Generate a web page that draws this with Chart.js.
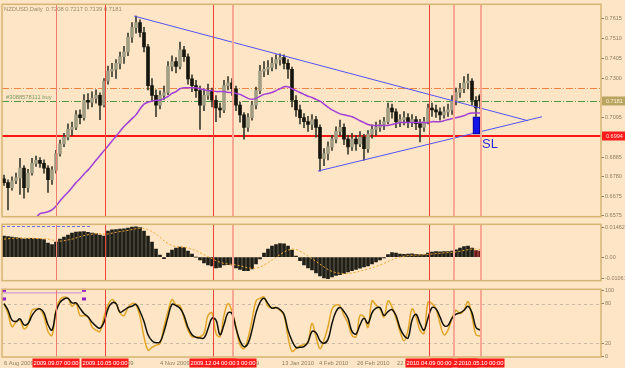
<!DOCTYPE html>
<html>
<head>
<meta charset="utf-8">
<title>NZDUSD Daily</title>
<script src="https://cdn.jsdelivr.net/npm/chart.js@4.4.1/dist/chart.umd.min.js"></script>
<style>
  html, body { margin: 0; padding: 0; background: #fde5c6; }
  #wrap { position: relative; width: 625px; height: 368px; overflow: hidden; background: #fde5c6; }
  #wrap canvas { position: absolute; left: 0; }
</style>
</head>
<body>
<div id="wrap">
  <canvas id="priceChart" width="625" height="221" style="top:0"></canvas>
  <canvas id="macdChart" width="625" height="65" style="top:220px"></canvas>
  <canvas id="stochChart" width="625" height="83" style="top:285px"></canvas>
</div>
<script>
// daily bars, 6 Aug 2009 .. 10 May 2010
const opens = [
  .6770, .6750, .6724, .6760, .6775, .6827, .6724, .6801, .6852, .6868,
  .6852, .6827, .6765, .6816, .6903, .6955, .6990, .7031, .7042, .7108,
  .7093, .7185, .7175, .7195, .7211, .7159, .7287, .7339, .7349, .7380,
  .7415, .7441, .7518, .7569, .7595, .7543, .7467, .7262, .7211, .7159,
  .7211, .7226, .7364, .7390, .7364, .7451, .7415, .7298, .7262, .7236,
  .7159, .7211, .7236, .7185, .7144, .7134, .7262, .7277, .7246, .7159,
  .7108, .7042, .7093, .7159, .7236, .7339, .7349, .7359, .7380, .7400,
  .7410, .7380, .7349, .7185, .7134, .7093, .7072, .7057, .7083, .7042,
  .6878, .6903, .6939, .6980, .7021, .7042, .6980, .6939, .6980, .6955,
  .6990, .6929, .7006, .7031, .7042, .7057, .7072, .7144, .7124, .7072,
  .7083, .7093, .7072, .7083, .7062, .7042, .7072, .7144, .7134, .7124,
  .7108, .7124, .7134, .7185, .7226, .7246, .7277, .7287, .7185, .7208
];
const highs = [
  .6790, .6765, .6780, .6800, .6878, .6840, .6820, .6878, .6890, .6882,
  .6870, .6840, .6835, .6920, .6975, .7010, .7060, .7070, .7130, .7135,
  .7215, .7220, .7230, .7240, .7225, .7300, .7365, .7380, .7400, .7440,
  .7470, .7540, .7595, .7630, .7610, .7570, .7480, .7300, .7240, .7235,
  .7260, .7390, .7420, .7410, .7492, .7470, .7430, .7320, .7290, .7260,
  .7245, .7270, .7250, .7210, .7170, .7290, .7310, .7300, .7260, .7175,
  .7120, .7115, .7180, .7255, .7370, .7390, .7395, .7410, .7425, .7431,
  .7425, .7400, .7360, .7210, .7160, .7115, .7100, .7110, .7100, .7055,
  .6930, .6965, .7000, .7045, .7080, .7060, .7000, .7010, .7000, .7020,
  .7005, .7025, .7055, .7070, .7080, .7095, .7170, .7165, .7140, .7110,
  .7125, .7115, .7110, .7100, .7085, .7095, .7165, .7170, .7160, .7145,
  .7150, .7165, .7210, .7250, .7275, .7310, .7323, .7300, .7205, .7217
];
const lows = [
  .6735, .6606, .6710, .6745, .6688, .6668, .6700, .6790, .6835, .6830,
  .6800, .6698, .6740, .6800, .6890, .6940, .6975, .7000, .7030, .7060,
  .7080, .7140, .7150, .7170, .7083, .7150, .7270, .7310, .7300, .7350,
  .7380, .7420, .7490, .7540, .7520, .7440, .7240, .7180, .7098, .7140,
  .7190, .7215, .7340, .7330, .7350, .7390, .7270, .7230, .7200, .7031,
  .7130, .7190, .7150, .7072, .7095, .7120, .7240, .7210, .7130, .7070,
  .6980, .7020, .7080, .7140, .7220, .7310, .7320, .7340, .7350, .7370,
  .7350, .7300, .7150, .7100, .7060, .7040, .7020, .7030, .6990, .6811,
  .6840, .6870, .6920, .6960, .7000, .6950, .6900, .6920, .6920, .6940,
  .6868, .6910, .6985, .7000, .7020, .7030, .7060, .7090, .7040, .7045,
  .7055, .7040, .7045, .7030, .6965, .7020, .7060, .7100, .7095, .7080,
  .7090, .7100, .7110, .7160, .7200, .7225, .7245, .7160, .7100, .7139
];
const closes = [
  .6750, .6724, .6760, .6775, .6827, .6724, .6801, .6852, .6868, .6852,
  .6827, .6765, .6816, .6903, .6955, .6990, .7031, .7042, .7108, .7093,
  .7185, .7175, .7195, .7211, .7159, .7287, .7339, .7349, .7380, .7415,
  .7441, .7518, .7569, .7595, .7543, .7467, .7262, .7211, .7159, .7211,
  .7226, .7364, .7390, .7364, .7451, .7415, .7298, .7262, .7236, .7159,
  .7211, .7236, .7185, .7144, .7134, .7262, .7277, .7246, .7159, .7108,
  .7042, .7093, .7159, .7236, .7339, .7349, .7359, .7380, .7400, .7410,
  .7380, .7349, .7185, .7134, .7093, .7072, .7057, .7083, .7042, .6878,
  .6903, .6939, .6980, .7021, .7042, .6980, .6939, .6980, .6955, .6990,
  .6929, .7006, .7031, .7042, .7057, .7072, .7144, .7124, .7072, .7083,
  .7093, .7072, .7083, .7062, .7042, .7072, .7144, .7134, .7124, .7108,
  .7124, .7134, .7185, .7226, .7246, .7277, .7287, .7185, .7144, .7181
];
// purple moving average
const maLine = [
  null, null, null, null, null, null, null, null,
  .6565, .6586, .6591, .6596, .6606, .6627, .6653, .6678, .6699, .6724,
  .6750, .6770, .6796, .6816, .6842, .6868, .6893, .6919, .6944, .6970,
  .6995, .7021, .7047, .7067, .7088, .7108, .7139, .7165, .7175, .7180,
  .7185, .7185, .7195, .7205, .7221, .7231, .7246, .7251, .7251, .7251,
  .7251, .7246, .7241, .7236, .7236, .7231, .7231, .7231, .7226, .7226,
  .7221, .7216, .7206, .7195, .7190, .7195, .7206, .7216, .7221, .7226,
  .7236, .7246, .7256, .7256, .7246, .7236, .7226, .7216, .7206, .7200,
  .7190, .7180, .7165, .7149, .7134, .7124, .7113, .7108, .7103, .7098,
  .7088, .7077, .7067, .7057, .7052, .7052, .7052, .7052, .7052, .7057,
  .7062, .7067, .7067, .7067, .7067, .7067, .7067, .7067, .7067, .7072,
  .7072, .7072, .7077, .7083, .7088, .7093, .7098, .7103, .7113, .7118,
  .7118, .7118
];
const macdHist = [
  .0105, .0103, .0100, .0098, .0095, .0092, .0093, .0094, .0093, .0092,
  .0088, .0070, .0063, .0075, .0090, .0100, .0110, .0120, .0125, .0127,
  .0128, .0124, .0120, .0118, .0110, .0105, .0130, .0137, .0138, .0140,
  .0142, .0145, .0150, .0152, .0148, .0130, .0105, .0075, .0040, .0010,
  -.0008, .0020, .0035, .0045, .0050, .0048, .0030, .0015, .0000, -.0015,
  -.0030, -.0040, -.0045, -.0055, -.0052, -.0040, -.0038, -.0040, -.0055, -.0062,
  -.0068, -.0068, -.0060, -.0035, -.0010, .0020, .0040, .0055, .0063, .0068,
  .0067, .0055, .0035, .0005, -.0018, -.0040, -.0055, -.0065, -.0080, -.0095,
  -.0105, -.0108, -.0100, -.0092, -.0088, -.0082, -.0075, -.0068, -.0062, -.0056,
  -.0050, -.0045, -.0035, -.0025, -.0015, -.0005, .0012, .0022, .0020, .0015,
  .0014, .0015, .0016, .0014, .0012, .0013, .0020, .0025, .0027, .0026,
  .0027, .0028, .0030, .0036, .0045, .0052, .0055, .0045, .0033, .0030
];
const macdSignal = [
  .0090, .0092, .0094, .0095, .0095, .0095, .0094, .0094, .0093, .0093,
  .0092, .0090, .0086, .0082, .0080, .0082, .0086, .0090, .0096, .0102,
  .0108, .0112, .0115, .0117, .0117, .0115, .0116, .0120, .0124, .0128,
  .0131, .0134, .0138, .0142, .0145, .0144, .0138, .0128, .0115, .0100,
  .0082, .0068, .0058, .0052, .0050, .0049, .0046, .0040, .0032, .0022,
  .0012, .0002, -.0008, -.0018, -.0026, -.0032, -.0035, -.0037, -.0040, -.0044,
  -.0049, -.0054, -.0057, -.0056, -.0050, -.0040, -.0028, -.0015, -.0002, .0012,
  .0025, .0035, .0040, .0038, .0030, .0018, .0005, -.0008, -.0022, -.0036,
  -.0050, -.0062, -.0072, -.0078, -.0082, -.0084, -.0083, -.0080, -.0076, -.0071,
  -.0066, -.0060, -.0054, -.0047, -.0040, -.0032, -.0023, -.0014, -.0006, .0000,
  .0004, .0007, .0009, .0010, .0011, .0012, .0013, .0015, .0017, .0019,
  .0021, .0022, .0024, .0026, .0029, .0033, .0037, .0040, .0040, .0038
];
const stochK = [
  80, 65, 45, 52, 55, 42, 48, 70, 72, 72,
  60, 38, 32, 70, 86, 90, 88, 76, 81, 62,
  62, 60, 45, 40, 38, 60, 78, 86, 80, 66,
  62, 74, 80, 78, 60, 30, 10, 14, 17, 20,
  45, 68, 86, 78, 77, 58, 40, 30, 30, 30,
  35, 62, 66, 35, 30, 62, 80, 68, 45, 18,
  12, 28, 55, 84, 88, 90, 76, 74, 74, 70,
  62, 30, 8, 12, 16, 18, 22, 50, 30, 12,
  25, 45, 72, 78, 76, 62, 50, 32, 30, 62,
  60, 44, 84, 78, 72, 60, 84, 75, 58, 38,
  24, 40, 72, 60, 40, 35, 82, 80, 72, 50,
  33, 40, 58, 70, 65, 70, 83, 60, 33, 31
];
const stochD = [
  80, 70, 55, 53, 57, 48, 50, 62, 70, 72,
  66, 48, 40, 68, 82, 87, 88, 81, 81, 73,
  65, 60, 52, 46, 43, 52, 72, 81, 80, 67,
  70, 74, 76, 79, 68, 53, 33, 24, 21, 22,
  38, 60, 79, 77, 73, 62, 44, 33, 29, 28,
  28, 42, 58, 55, 33, 48, 66, 65, 43, 24,
  15, 20, 40, 66, 82, 88, 80, 73, 74, 71,
  64, 40, 24, 14, 14, 15, 22, 38, 36, 24,
  20, 26, 50, 68, 74, 68, 58, 38, 34, 48,
  58, 50, 66, 73, 74, 62, 68, 71, 62, 43,
  32, 28, 55, 64, 50, 40, 58, 74, 72, 60,
  47, 47, 58, 64, 66, 70, 76, 66, 44, 40
];

const priceTicks = [0.7615, 0.7510, 0.7405, 0.7300, 0.7095, 0.6885, 0.6780, 0.6675, 0.6575];
const macdTicks = [0.01462, 0, -0.01061];
const macdTickLabels = ['0.01462', '0.00', '-0.01061'];
const stochTicks = [100, 80, 20, 0];

// bar positions of the date labels and of the vertical event lines
const dateLabels = ['6 Aug 2009', '12 Oct 2009', '4 Nov 2009', '24 Dec 2009', '13 Jan 2010', '4 Feb 2010', '26 Feb 2010', '22 Mar 2010'];
const dateIdx = [-0.5, 24, 38.5, 55, 69, 78.25, 87.75, 97.75];
const eventIdx = [13, 25.25, 57.25, 52.25, 112.5, 106.25, 119.25];
const eventLabels = ['2009.09.07 00:00', '2009.10.05 00:00', '2009.12.23 00:00', '2009.12.04 00:00', '2010.04.26 00:00', '2010.04.09 00:00', '2010.05.10 00:00'];

// horizontal levels: take profit, bid, order, stop loss
const levelPrices = [0.7250, 0.7183, 0.7180, 0.6994];
const lastPrice = 0.7181;
const stopPrice = 0.6994;
const headerText = 'NZDUSD,Daily  0.7208 0.7217 0.7139 0.7181';
const orderText = '#3088578111 buy';

// triangle lines [barIndex, price]
const upperTrend = [[32.5, 0.7630], [131, 0.7077]];
const lowerTrend = [[78.5, 0.6811], [134.5, 0.7098]];
const slBox = [118.1, 0.7006, 0.7098];

const X_MIN = -0.5;
const X_MAX = 149.25;
const FONT = "'Liberation Sans', Arial, sans-serif";
const AXIS_TEXT = '#8d7e60';
const PANEL_BORDER = '#d6b472';
const BULL = '#a19e84';
const BEAR = '#16160f';

const levelStyles = [
  { color: '#ef8440', width: 1, dash: [7, 2, 1, 2] },
  { color: '#c9c0b2', width: 1, dash: [1, 2] },
  { color: '#4f9440', width: 1, dash: [7, 2, 1, 2] },
  { color: '#ff1414', width: 2, dash: [] }
];
const eventStyles = [
  { color: '#f07a70', width: 1 },
  { color: '#ec4438', width: 1 },
  { color: '#f7a793', width: 2 },
  { color: '#ec4438', width: 1 },
  { color: '#f7a793', width: 2 },
  { color: '#ec4438', width: 1 },
  { color: '#f7a793', width: 2 }
];

const barIdx = closes.map((_, i) => i);

function rightAxis(min, max, ticks, format) {
  return {
    position: 'right',
    min,
    max,
    afterFit: (s) => { s.width = 24; },
    afterBuildTicks: (s) => { s.ticks = ticks.map((v) => ({ value: v })); },
    grid: { display: true, drawOnChartArea: false, drawTicks: true, tickLength: 3, color: AXIS_TEXT },
    border: { display: false },
    ticks: { autoSkip: false, padding: 1, color: AXIS_TEXT, font: { family: FONT, size: 5.5 }, callback: format }
  };
}

function baseOptions(yAxis, padding) {
  return {
    responsive: false,
    animation: false,
    events: [],
    layout: { padding },
    plugins: { legend: { display: false }, tooltip: { enabled: false } },
    scales: {
      x: { type: 'linear', min: X_MIN, max: X_MAX, offset: false, display: false },
      y: yAxis
    }
  };
}

const panelFrame = {
  id: 'panelFrame',
  afterDatasetsDraw(chart) {
    const { ctx, chartArea: a, scales: { x } } = chart;
    ctx.save();
    eventIdx.forEach((v, k) => {
      const st = eventStyles[k];
      const px = Math.round(x.getPixelForValue(v)) + (st.width === 1 ? 0.5 : 0);
      ctx.strokeStyle = st.color;
      ctx.lineWidth = st.width;
      ctx.beginPath();
      ctx.moveTo(px, a.top);
      ctx.lineTo(px, a.bottom);
      ctx.stroke();
    });
    ctx.restore();
  },
  afterDraw(chart) {
    const { ctx, chartArea: a } = chart;
    ctx.save();
    ctx.strokeStyle = PANEL_BORDER;
    ctx.lineWidth = 1.5;
    ctx.strokeRect(a.left, a.top, a.right - a.left, a.bottom - a.top);
    ctx.restore();
  }
};

function axisBox(chart, value, bg, fg) {
  const { ctx, chartArea: a, scales: { y } } = chart;
  const py = Math.round(y.getPixelForValue(value));
  ctx.fillStyle = bg;
  ctx.fillRect(a.right + 1, py - 4.5, 24, 9);
  ctx.fillStyle = fg;
  ctx.font = `5.5px ${FONT}`;
  ctx.textBaseline = 'middle';
  ctx.textAlign = 'left';
  ctx.fillText(value.toFixed(4), a.right + 5, py + 0.5);
}

const priceDecor = {
  id: 'priceDecor',
  beforeDatasetsDraw(chart) {
    const { ctx, chartArea: a, scales: { y } } = chart;
    ctx.save();
    levelPrices.forEach((p, k) => {
      const st = levelStyles[k];
      const py = Math.round(y.getPixelForValue(p)) + (st.width === 1 ? 0.5 : 0);
      ctx.strokeStyle = st.color;
      ctx.lineWidth = st.width;
      ctx.setLineDash(st.dash);
      ctx.beginPath();
      ctx.moveTo(a.left, py);
      ctx.lineTo(a.right, py);
      ctx.stroke();
    });
    ctx.setLineDash([]);
    ctx.font = `5.8px ${FONT}`;
    ctx.textBaseline = 'alphabetic';
    ctx.fillStyle = '#7f9a60';
    ctx.fillText(orderText, a.left + 4, y.getPixelForValue(levelPrices[2]) - 2);
    ctx.fillStyle = '#9a8a68';
    ctx.fillText(headerText, a.left + 2, a.top + 7);
    ctx.restore();
  },
  afterDatasetsDraw(chart) {
    const { ctx, scales: { x, y } } = chart;
    ctx.save();
    ctx.fillStyle = '#2b2bd8';
    ctx.font = `13px ${FONT}`;
    ctx.textBaseline = 'top';
    ctx.fillText('SL', x.getPixelForValue(slBox[0] + 1.4), y.getPixelForValue(slBox[1]) + 4);
    ctx.restore();
  },
  afterDraw(chart) {
    chart.ctx.save();
    axisBox(chart, lastPrice, '#b9a560', '#fff3da');
    axisBox(chart, stopPrice, '#ff1c1c', '#ffe2da');
    chart.ctx.restore();
  }
};

new Chart(document.getElementById('priceChart'), {
  type: 'bar',
  data: {
    datasets: [
      {
        type: 'bar',
        order: 1,
        grouped: false,
        barThickness: 7,
        backgroundColor: '#1414e6',
        borderColor: '#00008a',
        borderWidth: 1,
        borderSkipped: false,
        data: [{ x: slBox[0], y: [slBox[1], slBox[2]] }]
      },
      {
        type: 'line',
        order: 2,
        borderColor: '#5252f2',
        borderWidth: 1,
        pointRadius: 0,
        data: upperTrend.map(([x, y]) => ({ x, y }))
      },
      {
        type: 'line',
        order: 2,
        borderColor: '#5252f2',
        borderWidth: 1,
        pointRadius: 0,
        data: lowerTrend.map(([x, y]) => ({ x, y }))
      },
      {
        type: 'line',
        order: 3,
        borderColor: '#a23fd6',
        borderWidth: 1.5,
        pointRadius: 0,
        tension: 0.3,
        data: barIdx.map((i) => ({ x: i, y: maLine[i] }))
      },
      {
        type: 'bar',
        order: 4,
        grouped: false,
        barThickness: 3,
        minBarLength: 1,
        borderWidth: 0,
        backgroundColor: (c) => (closes[c.dataIndex] >= opens[c.dataIndex] ? BULL : BEAR),
        data: barIdx.map((i) => ({ x: i, y: [opens[i], closes[i]] }))
      },
      {
        type: 'bar',
        order: 5,
        grouped: false,
        barThickness: 1,
        borderWidth: 0,
        backgroundColor: '#3c3c2e',
        data: barIdx.map((i) => ({ x: i, y: [lows[i], highs[i]] }))
      }
    ]
  },
  options: baseOptions(rightAxis(0.6570, 0.7692, priceTicks, (v) => v.toFixed(4)), { left: 2, right: 0, top: 1, bottom: 1 }),
  plugins: [priceDecor, panelFrame]
});

const macdDecor = {
  id: 'macdDecor',
  beforeDatasetsDraw(chart) {
    const { ctx, scales: { x, y } } = chart;
    ctx.save();
    ctx.strokeStyle = '#6b6bf0';
    ctx.lineWidth = 1;
    ctx.setLineDash([3, 2]);
    const py = Math.round(y.getPixelForValue(0.0155)) + 0.5;
    ctx.beginPath();
    ctx.moveTo(x.getPixelForValue(-0.5), py);
    ctx.lineTo(x.getPixelForValue(21.5), py);
    ctx.stroke();
    ctx.restore();
  }
};

new Chart(document.getElementById('macdChart'), {
  type: 'bar',
  data: {
    datasets: [
      {
        type: 'line',
        order: 1,
        borderColor: '#f2a82e',
        borderWidth: 1,
        borderDash: [2, 2],
        pointRadius: 0,
        tension: 0.3,
        data: barIdx.map((i) => ({ x: i, y: macdSignal[i] }))
      },
      {
        type: 'bar',
        order: 2,
        grouped: false,
        barThickness: 3,
        borderWidth: 0,
        backgroundColor: (c) => (c.dataIndex >= closes.length - 2 ? '#6e1616' : '#1f1e16'),
        data: barIdx.map((i) => ({ x: i, y: macdHist[i] }))
      }
    ]
  },
  options: baseOptions(rightAxis(-0.01188, 0.01645, macdTicks, (v, i) => macdTickLabels[i]), { left: 2, right: 0, top: 2, bottom: 1 }),
  plugins: [macdDecor, panelFrame]
});

const stochDecor = {
  id: 'stochDecor',
  beforeDatasetsDraw(chart) {
    const { ctx, chartArea: a, scales: { x, y } } = chart;
    ctx.save();
    ctx.strokeStyle = '#c9b9a6';
    ctx.lineWidth = 1;
    ctx.setLineDash([3, 3]);
    [80, 20].forEach((v) => {
      const py = Math.round(y.getPixelForValue(v)) + 0.5;
      ctx.beginPath();
      ctx.moveTo(a.left, py);
      ctx.lineTo(a.right, py);
      ctx.stroke();
    });
    ctx.setLineDash([]);
    // selected object in the top left corner
    const x0 = x.getPixelForValue(-0.5);
    const x1 = x.getPixelForValue(19.5);
    const yTop = y.getPixelForValue(100);
    const yBot = y.getPixelForValue(87);
    ctx.strokeStyle = '#c58ad8';
    ctx.beginPath();
    ctx.moveTo(x0, yTop + 2.5);
    ctx.lineTo(x1, yTop + 2.5);
    ctx.stroke();
    ctx.fillStyle = '#9320c4';
    [[x0, yTop], [x0, yBot], [x1, yTop], [x1, yBot]].forEach(([px, py]) => {
      ctx.fillRect(px, py - 1.5, 4, 3);
    });
    ctx.restore();
  },
  afterDraw(chart) {
    const { ctx, chartArea: a, scales: { x } } = chart;
    ctx.save();
    ctx.font = `5.8px ${FONT}`;
    ctx.textBaseline = 'middle';
    ctx.textAlign = 'left';
    ctx.fillStyle = AXIS_TEXT;
    const ly = a.bottom + 6;
    dateLabels.forEach((t, k) => {
      ctx.fillText(t, x.getPixelForValue(dateIdx[k]) + 2, ly);
    });
    eventIdx.forEach((v, k) => {
      const px = Math.round(x.getPixelForValue(v));
      ctx.fillStyle = '#ff1a1a';
      ctx.fillRect(px - 23.5, a.bottom + 1.5, 47, 9);
      ctx.fillStyle = '#ffffff';
      ctx.textAlign = 'center';
      ctx.fillText(eventLabels[k], px, ly);
    });
    ctx.restore();
  }
};

new Chart(document.getElementById('stochChart'), {
  type: 'line',
  data: {
    datasets: [
      {
        order: 1,
        borderColor: '#111108',
        borderWidth: 1.5,
        pointRadius: 0,
        tension: 0.4,
        data: barIdx.map((i) => ({ x: i, y: stochD[i] }))
      },
      {
        order: 2,
        borderColor: '#e2a526',
        borderWidth: 1.5,
        pointRadius: 0,
        tension: 0.4,
        data: barIdx.map((i) => ({ x: i, y: stochK[i] }))
      }
    ]
  },
  options: baseOptions(rightAxis(-0.6, 101.6, stochTicks, (v) => String(v)), { left: 2, right: 0, top: 1, bottom: 11 }),
  plugins: [stochDecor, panelFrame]
});
</script>
</body>
</html>
